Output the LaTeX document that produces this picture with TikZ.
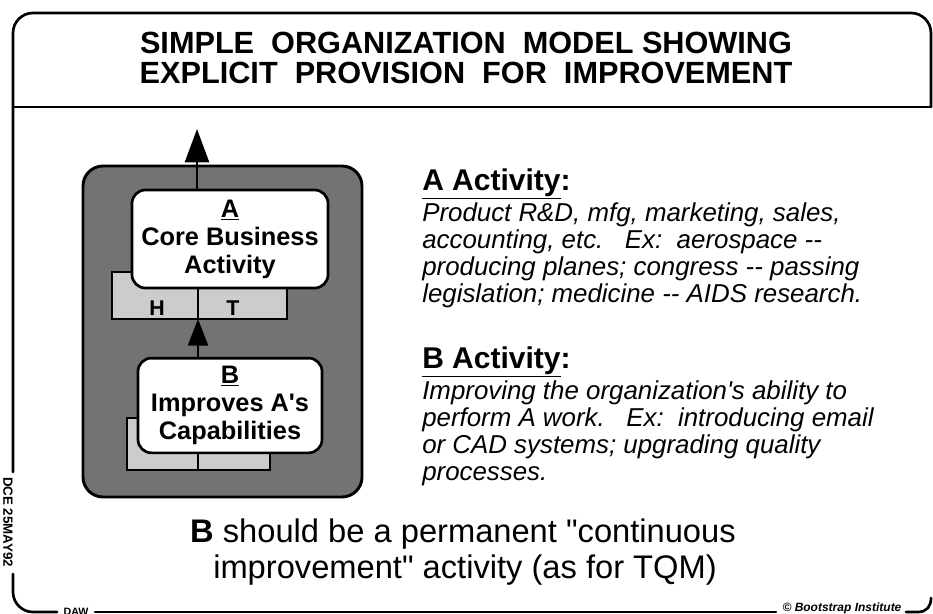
\documentclass[tikz,border=0pt]{standalone}
\usepackage{fontspec}
\setmainfont{Liberation Sans}[Ligatures=TeXOff]
\usetikzlibrary{arrows.meta, positioning}

\tikzset{
  frameline/.style={line width=2pt, line cap=round},
  outerbox/.style={draw, line width=2.2pt, rounded corners=15pt, fill=black!55},
  tabbox/.style={draw, line width=1.6pt, fill=black!20},
  actbox/.style={draw, line width=2pt, rounded corners=10pt, fill=white, align=center,
    font=\fontsize{19}{21}\selectfont\bfseries, inner sep=0pt},
  flow/.style={line width=2pt, -{Triangle[width=18pt, length=25pt]}},
  heading/.style={anchor=base west, inner sep=0pt, font=\fontsize{22.5}{24}\selectfont\bfseries},
  bodytext/.style={anchor=north west, inner sep=0pt, align=left,
    font={\fontsize{19.4}{20.25}\selectfont\itshape\lineskiplimit-20pt}},
}

\begin{document}
\begin{tikzpicture}[x=0.75pt, y=-0.75pt]
  \useasboundingbox (0,0) rectangle (933,614);

  % frame
  \draw[frameline, rounded corners=15pt] (13,472) -- (13,13) -- (931,13) -- (931,107);
  \draw[frameline] (13,107) -- (931,107);
  \draw[frameline, rounded corners=15pt] (13,574) -- (13,612) -- (57,612);
  \draw[frameline] (95,612) -- (776,612);
  \draw[frameline] (906,612) -- (918,612) .. controls (927,612) and (931,606) .. (931,598);
  \node[rotate=-90, font=\fontsize{10}{10}\selectfont\bfseries, inner sep=0pt] (stamp) at (8,522) {DCE 25MAY92};
  \node[font=\fontsize{8}{8}\selectfont\bfseries, inner sep=0pt] (author) at (76,612) {DAW};
  \node[font=\fontsize{9}{9}\selectfont\bfseries\itshape, inner sep=0pt] (credit) at (842,608) {\copyright\ Bootstrap Institute};

  % title
  \node[align=center, font=\fontsize{23}{23}\selectfont\bfseries] (title) at (466,58)
    {SIMPLE\ \ ORGANIZATION\ \ MODEL SHOWING\\EXPLICIT\ \ PROVISION\ \ FOR\ \ IMPROVEMENT};

  % model
  \draw[outerbox] (83,166) rectangle (362,497);
  \draw[tabbox] (112,272) rectangle (287,319);
  \draw[tabbox] (127,418) rectangle (270,470);
  \node[actbox, minimum width=147pt, minimum height=73.5pt] (A) at (230,239)
    {\underline{A}\\Core Business\\Activity};
  \node[actbox, minimum width=138pt, minimum height=71pt] (B) at (230,405.5)
    {\underline{B}\\Improves A's\\Capabilities};
  \node[font=\fontsize{16}{16}\selectfont\bfseries, anchor=base] (H) at (157,315) {H};
  \node[font=\fontsize{16}{16}\selectfont\bfseries, anchor=base] (T) at (233,315) {T};
  \coordinate (out) at (197,129);
  \coordinate (tabfoot) at (198,319);
  \coordinate (lowfoot) at (198,470);
  \draw[flow] (A.north -| out) -- (out);
  \draw[flow, -{Triangle[width=15pt, length=20pt]}] (B.north -| tabfoot) -- (tabfoot);
  \draw[line width=2pt] (tabfoot) -- (A.south -| tabfoot);
  \draw[line width=2pt] (B.south -| lowfoot) -- (lowfoot);

  % explanations
  \node[heading] (Ahead) at (422,190) {\underline{A Activity}:};
  \node[bodytext] (Abody) at ([yshift=-9.5pt] Ahead.base west)
    {Product R\&D, mfg, marketing, sales,\\accounting, etc.\ \ \ Ex:\ \ aerospace --\\producing planes; congress -- passing\\legislation; medicine -- AIDS research.};
  \node[heading] (Bhead) at (422,368) {\underline{B Activity}:};
  \node[bodytext] (Bbody) at ([yshift=-9.5pt] Bhead.base west)
    {Improving the organization's ability to\\perform A work.\ \ \ Ex:\ \ introducing email\\or CAD systems; upgrading quality\\processes.};

  % conclusion
  \node[font=\fontsize{24.5}{24.5}\selectfont, anchor=base] (note) at (463,542)
    {\textbf{B} should be a permanent "continuous};
  \node[font=\fontsize{24.5}{24.5}\selectfont, anchor=base] (note2) at (465,578)
    {improvement" activity (as for TQM)};
\end{tikzpicture}
\end{document}
